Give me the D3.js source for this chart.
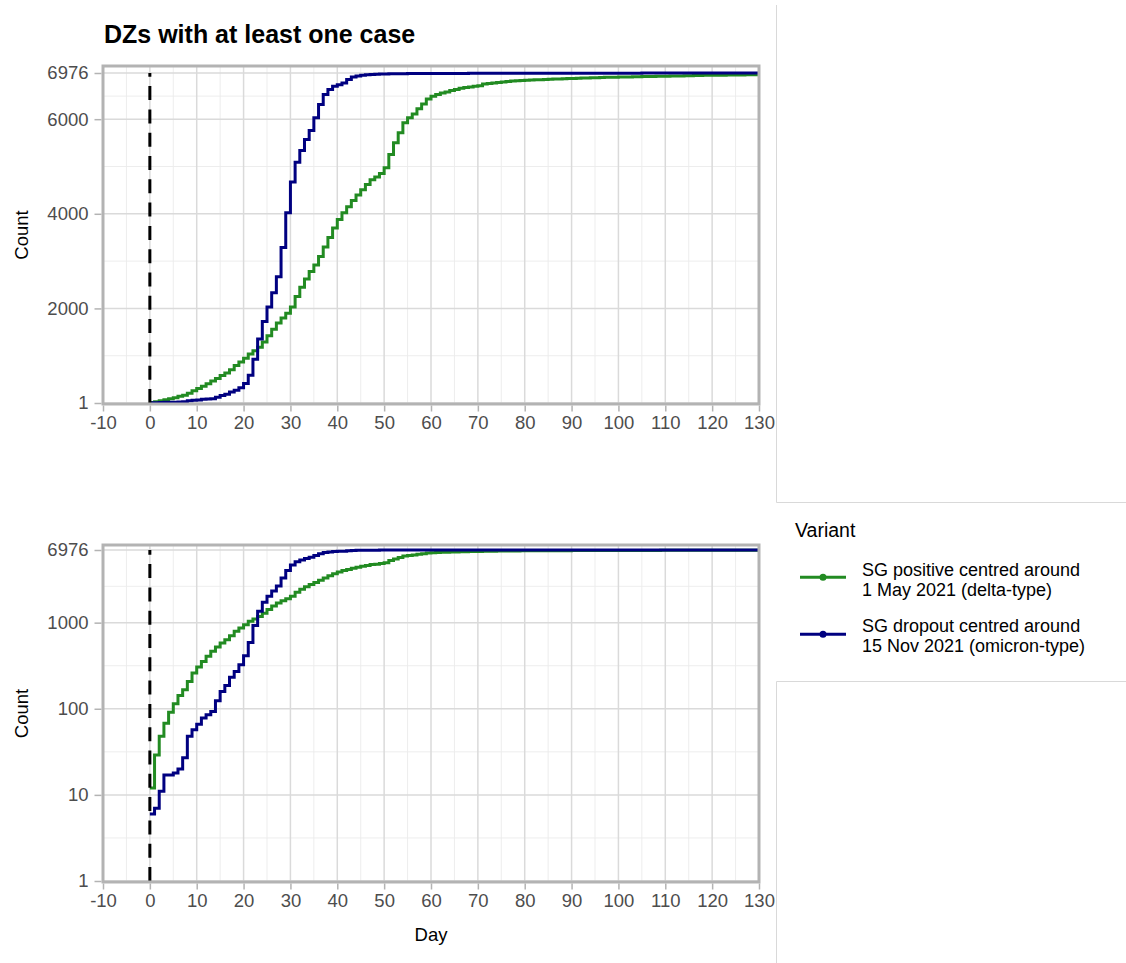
<!DOCTYPE html>
<html>
<head>
<meta charset="utf-8">
<script src="https://cdn.jsdelivr.net/npm/d3@7"></script>
<style>
  body { margin: 0; background: #fff; }
  svg { font-family: "Liberation Sans", Arial, sans-serif; display: block; }
</style>
</head>
<body>
<svg id="chart" width="1126" height="963"></svg>
<script>
// DATA
const days = d3.range(0, 131); // day 0 .. 130

// SG positive, centred around 1 May 2021 (delta-type)
const deltaCounts = [
  12, 29, 48, 68, 91, 114, 143, 166, 208, 260,
  305, 355, 406, 464, 521, 580, 634, 706, 792, 867,
  948, 1036, 1105, 1180, 1290, 1420, 1560, 1690, 1800, 1900,
  2030, 2250, 2450, 2620, 2780, 2920, 3100, 3300, 3500, 3700,
  3880, 4020, 4150, 4280, 4400, 4510, 4620, 4720, 4780, 4850,
  4975, 5256, 5500, 5712, 5923, 6028, 6112, 6218, 6323, 6428,
  6484, 6519, 6554, 6575, 6604, 6625, 6653, 6667, 6681, 6695,
  6709, 6744, 6755, 6765, 6775, 6786, 6795, 6805, 6814, 6818,
  6822, 6827, 6831, 6835, 6839, 6843, 6847, 6851, 6856, 6859,
  6862, 6865, 6868, 6871, 6874, 6877, 6880, 6884, 6886, 6888,
  6890, 6892, 6894, 6896, 6898, 6900, 6901, 6903, 6905, 6907,
  6909, 6911, 6913, 6915, 6917, 6919, 6921, 6923, 6926, 6927,
  6929, 6930, 6931, 6932, 6934, 6935, 6936, 6937, 6938, 6939,
  6940
];

// SG dropout, centred around 15 Nov 2021 (omicron-type)
const omicronCounts = [
  6, 7, 11, 17, 17, 18, 20, 27, 48, 57,
  66, 78, 85, 93, 124, 159, 186, 233, 271, 325,
  413, 590, 925, 1355, 1725, 2030, 2330, 2670, 3290, 4020,
  4670, 5090, 5340, 5570, 5760, 6030, 6310, 6520, 6625, 6695,
  6730, 6765, 6836, 6890, 6912, 6926, 6938, 6945, 6950, 6954,
  6957, 6958, 6960, 6961, 6962, 6963, 6964, 6964, 6965, 6965,
  6966, 6966, 6967, 6967, 6967, 6968, 6968, 6968, 6969, 6969,
  6969, 6969, 6970, 6970, 6970, 6970, 6970, 6971, 6971, 6971,
  6971, 6971, 6971, 6972, 6972, 6972, 6972, 6972, 6972, 6972,
  6972, 6972, 6972, 6972, 6973, 6973, 6973, 6973, 6973, 6973,
  6973, 6973, 6973, 6973, 6973, 6974, 6974, 6974, 6974, 6974,
  6974, 6974, 6974, 6974, 6974, 6974, 6975, 6975, 6975, 6975,
  6975, 6975, 6975, 6975, 6975, 6975, 6975, 6975, 6975, 6975,
  6975
];

const seriesNames = [
  ["SG positive centred around", "1 May 2021 (delta-type)"],
  ["SG dropout centred around", "15 Nov 2021 (omicron-type)"]
];
const seriesColors = ["#228B22", "#000080"];

const xTicks = [-10, 0, 10, 20, 30, 40, 50, 60, 70, 80, 90, 100, 110, 120, 130];
const xMinor = [-5, 5, 15, 25, 35, 45, 55, 65, 75, 85, 95, 105, 115, 125];
const linTicks = [1, 2000, 4000, 6000, 6976];
const linMinor = [1000.5, 3000, 5000, 6488];
const logTicks = [1, 10, 100, 1000, 6976];
const logMinor = [3.162, 31.62, 316.2, 2641];
const yMax = 6976;

// LAYOUT
const svg = d3.select("#chart");
const left = 103, right = 759;
const x = d3.scaleLinear().domain([-10, 130]).range([left, right]);
const plainNum = d => String(d); // hyphen minus like the original

const series = [deltaCounts, omicronCounts].map((vals, i) => ({
  color: seriesColors[i],
  points: days.map((d, j) => ({ day: d, count: vals[j] }))
}));

// Title
svg.append("text")
  .attr("x", 104).attr("y", 42.5)
  .attr("font-size", 25).attr("font-weight", "bold")
  .attr("fill", "#000")
  .text("DZs with at least one case");

// PANEL DRAWING
function drawPanel(id, y, yTicks, yMinor, top, bottom, showDay) {
  const g = svg.append("g");
  const clipId = "clip-" + id;
  svg.append("defs").append("clipPath").attr("id", clipId)
    .append("rect")
    .attr("x", left).attr("y", top)
    .attr("width", right - left).attr("height", bottom - top);

  // minor grid
  g.selectAll(".xminor").data(xMinor).enter().append("line")
    .attr("x1", d => x(d)).attr("x2", d => x(d))
    .attr("y1", top).attr("y2", bottom)
    .attr("stroke", "#EBEBEB").attr("stroke-width", 0.9);
  g.selectAll(".yminor").data(yMinor).enter().append("line")
    .attr("x1", left).attr("x2", right)
    .attr("y1", d => y(d)).attr("y2", d => y(d))
    .attr("stroke", "#EBEBEB").attr("stroke-width", 0.9);

  // major grid
  g.selectAll(".xmajor").data(xTicks).enter().append("line")
    .attr("x1", d => x(d)).attr("x2", d => x(d))
    .attr("y1", top).attr("y2", bottom)
    .attr("stroke", "#DADADA").attr("stroke-width", 1.5);
  g.selectAll(".ymajor").data(yTicks).enter().append("line")
    .attr("x1", left).attr("x2", right)
    .attr("y1", d => y(d)).attr("y2", d => y(d))
    .attr("stroke", "#DADADA").attr("stroke-width", 1.5);

  // step lines
  const line = d3.line()
    .x(d => x(d.day)).y(d => y(d.count))
    .curve(d3.curveStepAfter);
  const lines = g.append("g").attr("clip-path", `url(#${clipId})`);
  series.forEach(s => {
    lines.append("path")
      .datum(s.points)
      .attr("d", line)
      .attr("fill", "none")
      .attr("stroke", s.color)
      .attr("stroke-width", 3)
      .attr("stroke-linejoin", "miter");
  });

  // dashed line at day 0
  g.append("line")
    .attr("x1", x(0)).attr("x2", x(0))
    .attr("y1", y(1)).attr("y2", y(yMax))
    .attr("stroke", "#000").attr("stroke-width", 3)
    .attr("stroke-dasharray", "14,9.3");

  // panel border
  g.append("rect")
    .attr("x", left).attr("y", top)
    .attr("width", right - left).attr("height", bottom - top)
    .attr("fill", "none").attr("stroke", "#B3B3B3").attr("stroke-width", 3);

  // x axis
  const xAxis = d3.axisBottom(x).tickValues(xTicks).tickSize(6).tickPadding(4)
    .tickFormat(plainNum);
  const xa = g.append("g").attr("transform", `translate(0,${bottom + 1.5})`).call(xAxis);
  xa.select(".domain").remove();
  xa.selectAll(".tick line").attr("stroke", "#B3B3B3").attr("stroke-width", 1.5);
  xa.selectAll(".tick text").attr("font-size", 18.5).attr("fill", "#4D4D4D")
    .attr("font-family", "Liberation Sans, Arial, sans-serif");

  // y axis
  const yAxis = d3.axisLeft(y).tickValues(yTicks).tickSize(7).tickPadding(6)
    .tickFormat(plainNum);
  const ya = g.append("g").attr("transform", `translate(${left - 1.5},0)`).call(yAxis);
  ya.select(".domain").remove();
  ya.selectAll(".tick line").attr("stroke", "#B3B3B3").attr("stroke-width", 1.5);
  ya.selectAll(".tick text").attr("font-size", 18.5).attr("fill", "#4D4D4D")
    .attr("font-family", "Liberation Sans, Arial, sans-serif");

  // y title
  svg.append("text")
    .attr("transform", `translate(28,${(top + bottom) / 2}) rotate(-90)`)
    .attr("text-anchor", "middle")
    .attr("font-size", 18.5).attr("fill", "#000")
    .text("Count");

  if (showDay) {
    svg.append("text")
      .attr("x", (left + right) / 2).attr("y", 941)
      .attr("text-anchor", "middle")
      .attr("font-size", 18.5).attr("fill", "#000")
      .text("Day");
  }
}

// top panel: linear
const yLin = d3.scaleLinear().domain([1, yMax]).range([403, 73]);
drawPanel("lin", yLin, linTicks, linMinor, 66, 404, false);

// bottom panel: log
const yLog = d3.scaleLog().domain([1, yMax]).range([881, 550]);
drawPanel("log", yLog, logTicks, logMinor, 545, 882, true);

// empty guide-area boxes on the right
const boxColor = "#D9D9D9";
svg.append("path")
  .attr("d", "M776.5,5 V502.5 H1126")
  .attr("fill", "none").attr("stroke", boxColor).attr("stroke-width", 1);
svg.append("path")
  .attr("d", "M1126,681.5 H776.5 V963")
  .attr("fill", "none").attr("stroke", boxColor).attr("stroke-width", 1);

// LEGEND
const legend = svg.append("g");
legend.append("text")
  .attr("x", 795).attr("y", 537)
  .attr("font-size", 19.5).attr("fill", "#000")
  .text("Variant");

const keyY = [577.3, 634.3];
const textY = [575.5, 632];
seriesNames.forEach((lines, i) => {
  const item = legend.append("g");
  item.append("line")
    .attr("x1", 800).attr("x2", 846)
    .attr("y1", keyY[i]).attr("y2", keyY[i])
    .attr("stroke", seriesColors[i]).attr("stroke-width", 3);
  item.append("circle")
    .attr("cx", 823).attr("cy", keyY[i]).attr("r", 3.5)
    .attr("fill", seriesColors[i]);
  // two separate lines of text, kept tight but not touching
  lines.forEach((s, k) => {
    item.append("text")
      .attr("x", 862).attr("y", textY[i] + k * 20.4)
      .attr("font-size", 18).attr("fill", "#000")
      .text(s);
  });
});
</script>
</body>
</html>
